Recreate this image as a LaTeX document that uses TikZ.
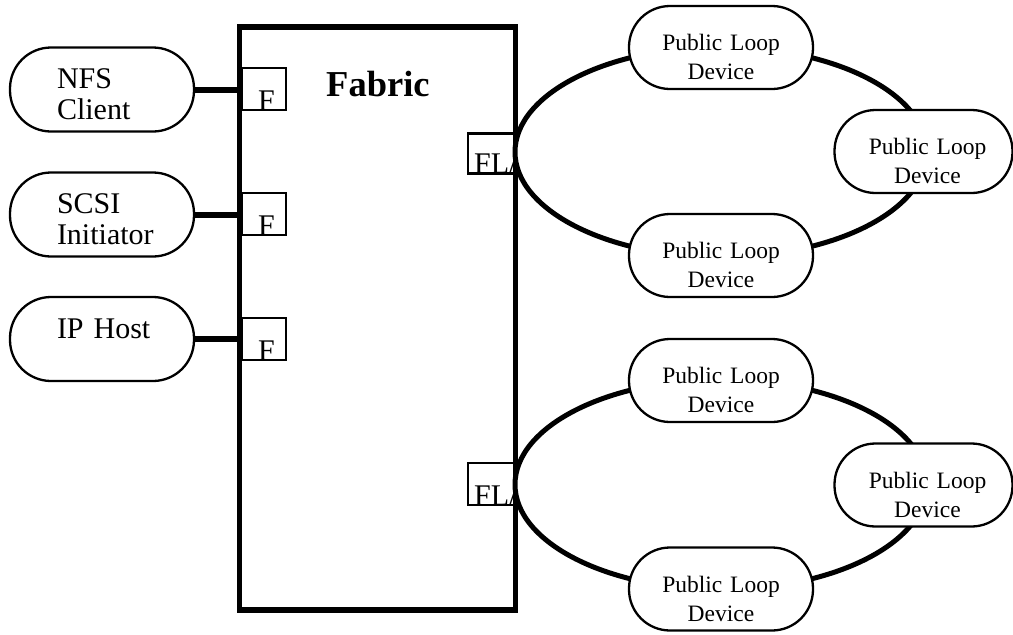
\documentclass[tikz,border=0pt]{standalone}
\usepackage{fontspec}
\setmainfont{Liberation Serif}
\usetikzlibrary{shapes.geometric}
\newcommand{\nudged}{\hspace*{8pt}}
\tikzset{
  px/.style={x=1pt,y=-1pt},
  device/.style={draw=black,line width=2.3pt,fill=white,rounded corners=41pt,inner sep=0pt,align=center},
  host/.style={device,minimum width=184pt,minimum height=84pt,align=left,text width=90pt,font=\fontsize{30}{31}\selectfont,execute at begin node={\rule{0pt}{30pt}}},
  loopdev/.style={device,minimum width=184pt,minimum height=83pt,text width=160pt,font=\fontsize{23.5}{29}\selectfont,execute at begin node={\rule{0pt}{36pt}}},
  sidedev/.style={loopdev,minimum width=178pt},
  portbox/.style={draw=black,line width=2.5pt,minimum width=44pt,minimum height=42pt,inner sep=0pt},
  portlabel/.style={inner sep=0pt,anchor=base west,font=\fontsize{30}{30}\selectfont},
  link/.style={line width=6pt,draw=black},
  loopring/.style={ellipse,draw=black,line width=5pt,fill=white,minimum width=412pt,minimum height=210pt,inner sep=0pt},
  fabricwall/.style={draw=black,line width=5.5pt,minimum width=276pt,minimum height=583pt,inner sep=0pt},
}
\begin{document}
\begin{tikzpicture}[px]
\useasboundingbox (0,0) rectangle (1013,635);
% fabric
\node[fabricwall] (fabric) at (377.5,318.5) {};
\node[inner sep=0pt,anchor=base west,font=\bfseries\fontsize{36.5}{36.5}\selectfont] (fabriclabel) at (326,96) {Fabric};
% F ports
\node[portbox] (p1) at (264,89) {};
\node[portbox] (p2) at (264,214) {};
\node[portbox] (p3) at (264,339) {};
\node[portlabel] (f1) at (258,110) {F};
\node[portlabel] (f2) at (258,235) {F};
\node[portlabel] (f3) at (258,360) {F};
% FL ports
\node[portbox,minimum width=46pt,minimum height=40pt] (q1) at (491,153.5) {};
\node[portbox,minimum width=46pt,minimum height=42pt] (q2) at (491,484) {};
\node[portlabel] (fl1) at (474,173) {FL/};
\node[portlabel] (fl2) at (474,505) {FL/};
% loops
\node[loopring] (loop1) at (721,152) {};
\node[loopring] (loop2) at (721,484.5) {};
% hosts
\node[host] (nfs) at (102,89.5) {NFS\\Client};
\node[host] (scsi) at (102,214.5) {SCSI\\Initiator};
\node[host] (ip) at (102,339) {\mbox{IP Host}\\\rule{0pt}{0pt}};
% links
\draw[link] (nfs.east) -- (fabric.west |- nfs.east);
\draw[link] (scsi.east) -- (fabric.west |- scsi.east);
\draw[link] (ip.east) -- (fabric.west |- ip.east);
% devices
\node[loopdev] (a1) at (721,47.5) {Public Loop\\Device};
\node[sidedev] (a2) at (923.5,151.5) {\nudged Public Loop\\\nudged Device};
\node[loopdev] (a3) at (721,255.5) {Public Loop\\Device};
\node[loopdev] (b1) at (721,380.5) {Public Loop\\Device};
\node[sidedev] (b2) at (923.5,485) {\nudged Public Loop\\\nudged Device};
\node[loopdev] (b3) at (721,589) {Public Loop\\Device};
\end{tikzpicture}
\end{document}
